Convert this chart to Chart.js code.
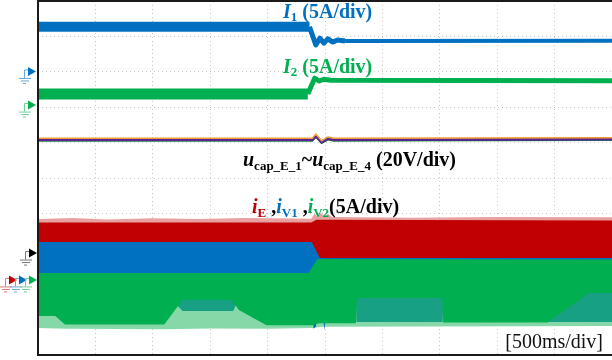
<!DOCTYPE html>
<html>
<head>
<meta charset="utf-8">
<script src="https://cdn.jsdelivr.net/npm/chart.js@4.4.1/dist/chart.umd.min.js"></script>
<style>
  html, body { margin: 0; padding: 0; background: #fff; }
</style>
</head>
<body>
<canvas id="scope" width="612" height="360"></canvas>
<script>
// x = time in divisions (500 ms/div), y = screen divisions counted from the bottom
const i1Trace = [[0, 9.27], [4.73, 9.27], [4.84, 8.76], [4.91, 8.95], [4.98, 8.81], [5.05, 8.93], [5.13, 8.84], [5.22, 8.9], [5.35, 8.87], [10, 8.88]];
const i2Trace = [[0, 7.37], [4.7, 7.37], [4.82, 7.82], [4.9, 7.74], [4.98, 7.79], [5.1, 7.76], [10, 7.75]];

const ucapOrange = [[0, 6.12], [4.78, 6.12], [4.84, 6.24], [4.94, 6.05], [5.05, 6.16], [5.15, 6.12], [10, 6.14]];
const ucapPurple = [[0, 6.08], [4.78, 6.08], [4.84, 6.2], [4.94, 6.01], [5.05, 6.12], [5.15, 6.08], [10, 6.1]];
const ucapNavy = [[0, 6.065], [4.78, 6.065], [4.84, 6.18], [4.94, 6.0], [5.05, 6.1], [5.15, 6.065], [10, 6.085]];
const ucapGreen = [[0, 6.045], [4.78, 6.045], [4.84, 6.16], [4.94, 5.98], [5.05, 6.08], [5.15, 6.045], [10, 6.065]];

// iE / iV1 / iV2 envelopes
const redNoiseTop = [[0, 3.84], [0.6, 3.87], [1.2, 3.83], [2.0, 3.86], [2.8, 3.84], [3.6, 3.87], [4.76, 3.85], [4.82, 4.0], [4.87, 3.9], [4.93, 4.02], [4.99, 3.9], [5.05, 3.99], [5.12, 3.9], [6.5, 3.88], [8.0, 3.9], [10, 3.89]];
const redTop = [[0, 3.74], [4.76, 3.74], [4.85, 3.82], [10, 3.8]];
const blueTop = [[0, 3.19], [4.77, 3.19], [4.91, 2.74], [10, 2.74]];
const blueBottom = [[0, 2.2], [10, 2.2]];
const blueDipLow = [[4.7, 1.2], [4.78, 1.2], [4.8, 0.74], [4.84, 0.8], [4.88, 1.2], [4.96, 1.2], [4.99, 0.7], [5.02, 1.2], [5.1, 1.2]];
const greenTop = [[0, 2.316], [4.71, 2.316], [4.87, 2.71], [10, 2.7]];
const greenSolidBottom = [[0, 1.1], [0.3, 1.1], [0.47, 0.86], [2.2, 0.86], [2.52, 1.56], [3.37, 1.56], [3.5, 1.27], [3.98, 0.84], [4.77, 0.84], [4.9, 0.9], [5.54, 0.9], [5.56, 1.61], [7.04, 1.61], [7.06, 0.92], [8.88, 0.92], [9.6, 1.75], [10, 1.75]];
const tealLowEdge = [[0, 1.6], [2.3, 1.6], [2.52, 1.24], [3.4, 1.24], [3.5, 1.6], [5.54, 1.6], [5.55, 0.93], [7.05, 0.93], [7.06, 1.6], [8.86, 1.6], [8.88, 0.93], [10, 0.93]];
const greenLowEdge = [[0, 0.76], [0.5, 0.74], [2.2, 0.73], [3.0, 0.75], [4.0, 0.74], [4.77, 0.76], [4.95, 0.8], [10, 0.82]];

// channel ground markers on the left edge
const groundLevels = [8.01, 7.06, 2.88, 2.12, 2.12, 2.12];

const RED = "#c00000";
const BLUE = "#0070c0";
const GREEN = "#00b050";

const datasets = [];

function toXY(pairs) {
    return pairs.map(([x, y]) => ({ x: x, y: y }));
}

function addLine(pairs, opts) {
    datasets.push(Object.assign({ data: toXY(pairs), fill: false, borderWidth: 0, pointRadius: 0 }, opts));
    return datasets.length - 1;
}

addLine(greenLowEdge, { fill: { value: 2.0 }, backgroundColor: "#86d8a8", order: 20 });
addLine(tealLowEdge, { fill: { value: 2.0 }, backgroundColor: "#17a084", order: 19 });
addLine(blueDipLow, { fill: { value: 1.2 }, backgroundColor: BLUE, order: 18 });
addLine(redNoiseTop, { fill: { value: 3.3 }, backgroundColor: "#e9a0a0", order: 17 });
addLine(redTop, { fill: { value: 2.6 }, backgroundColor: RED, order: 16 });
const blueBottomIdx = addLine(blueBottom, { order: 15 });
addLine(blueTop, { fill: { target: blueBottomIdx }, backgroundColor: BLUE, order: 14 });
const greenBottomIdx = addLine(greenSolidBottom, { order: 13 });
addLine(greenTop, { fill: { target: greenBottomIdx }, backgroundColor: GREEN, order: 12 });

addLine(ucapGreen, { borderColor: "#3aa83a", borderWidth: 1.5, order: 8 });
addLine(ucapNavy, { borderColor: "#23308f", borderWidth: 2, order: 7 });
addLine(ucapPurple, { borderColor: "#5a2590", borderWidth: 2.5, order: 6 });
addLine(ucapOrange, { borderColor: "#f39c33", borderWidth: 1.5, order: 5 });

addLine(i2Trace, {
    borderColor: GREEN,
    borderWidth: 11,
    order: 2,
    segment: { borderWidth: (c) => (c.p1.parsed.x <= 4.71 ? 11 : 5) },
});
addLine(i1Trace, {
    borderColor: BLUE,
    borderWidth: 10,
    order: 1,
    segment: { borderWidth: (c) => (c.p1.parsed.x <= 4.74 ? 10 : c.p0.parsed.x < 5.3 ? 5 : 4) },
});

const BI = 'bold italic 20px "Liberation Serif"';
const B = 'bold 20px "Liberation Serif"';
const S = 'bold 13px "Liberation Serif"';

function drawRuns(ctx, x, base, runs) {
    runs.forEach((r) => {
        ctx.font = r.f;
        ctx.fillStyle = r.c;
        ctx.fillText(r.t, x, base + (r.dy || 0));
        x += ctx.measureText(r.t).width;
    });
}

function drawGround(ctx, tipX, tipY, color, light) {
    ctx.fillStyle = color;
    ctx.beginPath();
    ctx.moveTo(tipX, tipY);
    ctx.lineTo(tipX - 8, tipY - 4.5);
    ctx.lineTo(tipX - 8, tipY + 4.5);
    ctx.closePath();
    ctx.fill();
    ctx.strokeStyle = light;
    ctx.lineWidth = 1;
    ctx.beginPath();
    ctx.moveTo(tipX - 8, tipY - 1.5);
    ctx.lineTo(tipX - 11.5, tipY - 1.5);
    ctx.lineTo(tipX - 11.5, tipY + 6.5);
    ctx.moveTo(tipX - 17, tipY + 7);
    ctx.lineTo(tipX - 5, tipY + 7);
    ctx.moveTo(tipX - 15, tipY + 9.5);
    ctx.lineTo(tipX - 7, tipY + 9.5);
    ctx.moveTo(tipX - 13, tipY + 12);
    ctx.lineTo(tipX - 10, tipY + 12);
    ctx.stroke();
}

const overlayPlugin = {
    id: "overlay",
    afterDraw(chart) {
        const ctx = chart.ctx;
        const area = chart.chartArea;
        const yScale = chart.scales.y;
        ctx.save();

        ctx.strokeStyle = "#1a1a1a";
        ctx.lineWidth = 2;
        ctx.beginPath();
        ctx.moveTo(area.right, area.top);
        ctx.lineTo(area.left, area.top);
        ctx.lineTo(area.left, area.bottom);
        ctx.lineTo(area.right, area.bottom);
        ctx.stroke();

        const markers = [
            [36, BLUE, "#6aa7d8"],
            [36, GREEN, "#6fd09a"],
            [37, "#000000", "#777777"],
            [17, RED, "#e07a7a"],
            [27, BLUE, "#6aa7d8"],
            [37, GREEN, "#6fd09a"],
        ];
        markers.forEach((m, i) => {
            drawGround(ctx, m[0], yScale.getPixelForValue(groundLevels[i]), m[1], m[2]);
        });

        ctx.textBaseline = "alphabetic";
        drawRuns(ctx, 283, 18, [
            { t: "I", f: BI, c: BLUE },
            { t: "1", f: S, c: BLUE, dy: 3 },
            { t: " (5A/div)", f: B, c: BLUE },
        ]);
        drawRuns(ctx, 283, 73, [
            { t: "I", f: BI, c: GREEN },
            { t: "2", f: S, c: GREEN, dy: 3 },
            { t: " (5A/div)", f: B, c: GREEN },
        ]);
        drawRuns(ctx, 243, 166, [
            { t: "u", f: BI, c: "#000" },
            { t: "cap_E_1", f: S, c: "#000", dy: 4 },
            { t: "~", f: B, c: "#000" },
            { t: "u", f: BI, c: "#000" },
            { t: "cap_E_4", f: S, c: "#000", dy: 4 },
            { t: " (20V/div)", f: B, c: "#000" },
        ]);
        drawRuns(ctx, 252, 213, [
            { t: "i", f: BI, c: RED },
            { t: "E", f: S, c: RED, dy: 4 },
            { t: " ,", f: B, c: "#000" },
            { t: "i", f: BI, c: BLUE },
            { t: "V1", f: S, c: BLUE, dy: 4 },
            { t: " ,", f: B, c: "#000" },
            { t: "i", f: BI, c: GREEN },
            { t: "V2", f: S, c: GREEN, dy: 4 },
            { t: "(5A/div)", f: B, c: "#000" },
        ]);
        ctx.font = '20px "Liberation Serif"';
        ctx.fillStyle = "#111";
        ctx.textAlign = "right";
        ctx.fillText("[500ms/div]", 603, 348);
        ctx.restore();
    },
};

const gridScale = {
    type: "linear",
    min: 0,
    max: 10,
    ticks: { display: false, stepSize: 1 },
    grid: { color: "#c8c8c8", lineWidth: 1, drawTicks: false },
    border: { display: false, dash: [1, 3] },
};

const scopeChart = new Chart(document.getElementById("scope"), {
    type: "line",
    data: { datasets: datasets },
    options: {
        responsive: false,
        animation: false,
        layout: { padding: { left: 38, top: 1, right: 0, bottom: 5 } },
        plugins: {
            legend: { display: false },
            tooltip: { enabled: false },
        },
        elements: {
            point: { radius: 0 },
            line: { tension: 0, borderJoinStyle: "round" },
        },
        scales: {
            x: gridScale,
            y: Object.assign({}, gridScale),
        },
    },
    plugins: [overlayPlugin],
});
</script>
</body>
</html>
